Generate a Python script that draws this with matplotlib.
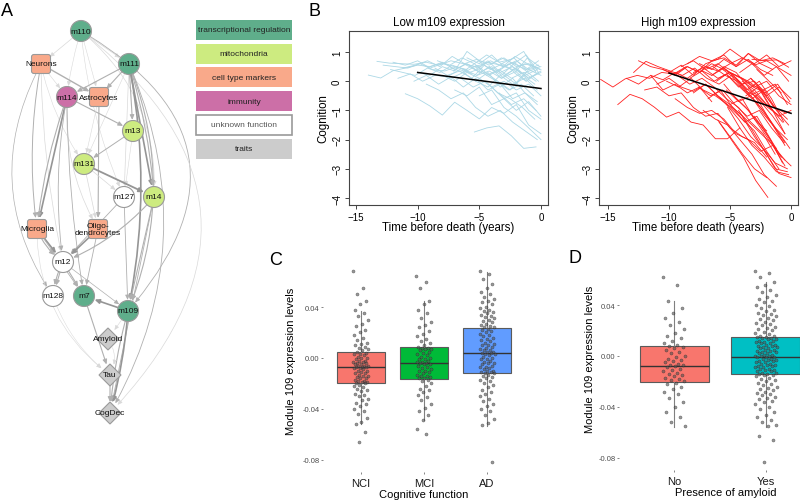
import numpy as np
import matplotlib
matplotlib.use('Agg')
import matplotlib.pyplot as plt
from matplotlib.patches import Circle, FancyBboxPatch, Polygon, Rectangle, FancyArrowPatch

plt.rcParams['font.family'] = ['Liberation Sans', 'DejaVu Sans']

W, H = 800, 502

# ---------------- panel A: network (layout positions from the original drawing) ----------------
node_names = ['m110', 'Neurons', 'm111', 'm114', 'Astrocytes', 'm13', 'm131', 'm127', 'm14',
              'Microglia', 'Oligo', 'm12', 'm128', 'm7', 'm109', 'Amyloid', 'Tau', 'CogDec']
node_labels = ['m110', 'Neurons', 'm111', 'm114', 'Astrocytes', 'm13', 'm131', 'm127', 'm14',
               'Microglia', 'Oligo-\ndendrocytes', 'm12', 'm128', 'm7', 'm109', 'Amyloid', 'Tau', 'CogDec']
node_x = [81, 41, 129, 67, 99, 133, 84, 124, 154, 37, 98, 63, 53, 84, 128, 108, 110, 110]
node_y = [32, 65, 65, 98, 98, 132, 165, 198, 198, 230, 230, 263, 297, 297, 312, 340, 376, 414]
node_group = ['tr', 'cell', 'tr', 'imm', 'cell', 'mito', 'mito', 'unk', 'mito',
              'cell', 'cell', 'unk', 'unk', 'tr', 'tr', 'trait', 'trait', 'trait']

group_colors = {'tr': '#5fae8b', 'mito': '#cdeb80', 'cell': '#f9a98a',
                'imm': '#cc6fa7', 'unk': '#ffffff', 'trait': '#cccccc'}
legend_labels = ['transcriptional regulation', 'mitochondria', 'cell type markers',
                 'immunity', 'unknown function', 'traits']
legend_keys = ['tr', 'mito', 'cell', 'imm', 'unk', 'trait']

# (source, target, curvature, width, shade)
edges = [
    ('m110', 'Neurons', 0.0, 0.5, 'l'), ('m110', 'm111', 0.0, 0.5, 'l'),
    ('m110', 'm114', 0.05, 0.4, 'l'), ('m110', 'Astrocytes', 0.0, 0.4, 'l'),
    ('m110', 'm127', 0.08, 0.4, 'l'), ('m110', 'm14', -0.25, 0.5, 'l'),
    ('m110', 'm109', -0.6, 0.6, 'm'), ('m110', 'CogDec', -0.55, 0.5, 'l'),
    ('Neurons', 'Astrocytes', 0.0, 1.0, 'm'), ('Neurons', 'm114', 0.0, 0.4, 'l'),
    ('Neurons', 'Microglia', 0.08, 0.7, 'm'), ('Neurons', 'm128', 0.3, 0.5, 'm'),
    ('Neurons', 'm131', 0.1, 0.4, 'l'), ('Neurons', 'm12', 0.05, 0.5, 'l'),
    ('m111', 'm114', 0.0, 0.8, 'm'), ('m111', 'Astrocytes', 0.0, 0.8, 'm'),
    ('m111', 'm13', 0.0, 0.8, 'm'), ('m111', 'm131', 0.0, 0.4, 'l'),
    ('m111', 'm127', 0.0, 0.5, 'l'), ('m111', 'm14', 0.0, 1.2, 'd'),
    ('m111', 'm14', -0.06, 0.8, 'm'), ('m111', 'm109', -0.1, 1.2, 'd'),
    ('m111', 'm109', -0.2, 0.8, 'm'), ('m111', 'CogDec', -0.25, 0.6, 'm'),
    ('m114', 'm13', 0.0, 0.8, 'm'), ('m114', 'Microglia', 0.0, 1.2, 'd'),
    ('m114', 'Microglia', 0.06, 0.8, 'm'), ('m114', 'Oligo', 0.15, 0.5, 'l'),
    ('m114', 'm12', 0.08, 0.6, 'm'), ('m114', 'm7', 0.04, 0.6, 'm'),
    ('Astrocytes', 'Oligo', 0.0, 0.8, 'm'), ('Astrocytes', 'm131', 0.0, 0.4, 'l'),
    ('m13', 'm131', 0.0, 0.7, 'm'), ('m13', 'm127', 0.0, 0.4, 'l'),
    ('m131', 'm14', 0.0, 1.3, 'd'), ('m131', 'm127', 0.0, 0.5, 'l'),
    ('m131', 'Oligo', 0.0, 0.5, 'l'),
    ('m127', 'm12', 0.0, 0.6, 'm'), ('m127', 'm109', 0.0, 0.6, 'm'),
    ('m14', 'm12', -0.12, 0.8, 'm'), ('m14', 'm109', 0.0, 0.8, 'm'),
    ('m14', 'CogDec', 0.0, 0.6, 'm'),
    ('Microglia', 'm12', 0.0, 1.2, 'd'), ('Microglia', 'm12', 0.15, 0.8, 'm'),
    ('Microglia', 'm7', 0.0, 0.6, 'm'), ('Microglia', 'Tau', 0.25, 0.4, 'l'),
    ('Oligo', 'm12', 0.0, 1.2, 'd'), ('Oligo', 'm7', 0.0, 0.6, 'm'),
    ('m12', 'm128', 0.0, 0.8, 'm'), ('m12', 'm128', 0.1, 0.8, 'm'),
    ('m12', 'm7', 0.0, 0.8, 'm'), ('m12', 'm109', 0.0, 0.5, 'm'),
    ('m109', 'm7', 0.0, 1.2, 'd'), ('m109', 'Amyloid', 0.0, 0.4, 'l'),
    ('m109', 'CogDec', -0.05, 1.2, 'd'), ('m109', 'CogDec', 0.05, 0.8, 'm'),
    ('m7', 'Tau', 0.0, 0.8, 'm'), ('Amyloid', 'Tau', -0.3, 0.4, 'l'),
    ('Tau', 'CogDec', 0.0, 0.8, 'm'), ('m128', 'Tau', 0.15, 0.35, 'l'),
]
shade_colors = {'l': '#d9d9d9', 'm': '#b0b0b0', 'd': '#959595'}

# ---------------- panel B: cognition trajectories (start year, yearly values) ----------------
low_traj = [
    (-14.0, [0.21, 0.11, 0.36, 0.45, 0.55, 0.5, 0.62]),
    (-13.3, [0.68, 0.62, 0.6, 0.58, 0.65, 0.55, 0.7, 0.6, 0.5, 0.65, 0.55, 0.4, 0.6, 0.45]),
    (-12.8, [0.55, 0.5, 0.45, 0.6, 0.4, 0.35, 0.5, 0.3, 0.45]),
    (-12.2, [0.4, 0.3, 0.2, 0.45, 0.3, 0.55, 0.4, 0.2, 0.35, 0.1, 0.3, 0.0]),
    (-11.6, [0.1, 0.25, 0.0, 0.2, 0.15, 0.4, 0.25]),
    (-11.2, [0.45, 0.55, 0.7, 0.5, 0.85, 0.6, 0.75, 0.55, 0.8, 0.6, 0.4, 0.55]),
    (-11.0, [-0.43, -0.6, -0.85, -1.16, -0.72, -1.0, -1.29, -0.9, -1.1, -0.8, -1.5, -1.8]),
    (-10.0, [0.3, 0.2, 0.5, 0.35, 1.02, 0.7, 0.6, 0.8, 0.5, 0.6, 0.4]),
    (-9.3, [-0.1, -0.3, -0.6, -0.4, -0.9, -1.2, -1.0, -1.4, -1.7, -2.0]),
    (-8.4, [0.7, 0.55, 0.8, 0.6, 0.9, 0.65, 0.75, 1.02, 0.3]),
    (-8.0, [0.2, 0.0, 0.3, 0.1, -0.2, 0.0, -0.3, -0.1, -0.5]),
    (-7.4, [0.5, 0.3, 0.6, 0.2, 0.4, 0.1, 0.3, 0.0]),
    (-7.1, [0.35, 0.6, 0.45, 0.7, 0.5, 0.85, 0.6, 0.4]),
    (-7.0, [-0.3, -0.5, -0.2, -0.8, -0.6, -1.0, -0.7, -1.2]),
    (-6.3, [0.6, 0.4, 0.7, 0.3, 0.5, 0.2, 0.4]),
    (-5.4, [-1.74, -1.6, -1.53, -1.87, -2.3, -2.25]),
    (-6.5, [0.1, -0.2, 0.0, -0.4, -0.6, -0.9, -1.3]),
    (-6.0, [0.8, 0.6, 0.9, 0.5, 0.7, 0.4, 0.2]),
    (-5.2, [0.2, 0.5, 0.1, 0.4, 0.0, 0.3]),
    (-5.0, [-0.5, -0.3, -0.9, -1.2, -1.6, -2.0]),
    (-5.1, [0.7, 0.4, 0.6, 0.3, 0.8, 0.5]),
    (-5.3, [0.0, 0.3, -0.2, 0.1, -0.4, -0.7]),
    (-4.2, [0.5, 0.2, 0.6, 0.9, 0.3]),
    (-4.5, [0.3, 0.0, -0.3, 0.2, -0.1]),
    (-4.0, [-0.2, -0.6, -0.4, -1.0, -1.3]),
    (-3.2, [0.6, 0.8, 0.4, 0.7]),
    (-3.0, [0.2, -0.1, 0.4, 0.5]),
    (-9.0, [0.5, 0.65, 0.4, 0.6, 0.3, 0.5, 0.2, 0.45, 0.1, 0.35]),
    (-10.3, [0.0, 0.2, -0.1, 0.15, -0.2, 0.1, -0.3, -0.1, -0.6, -0.4, -0.8]),
    (-12.0, [0.65, 0.55, 0.7, 0.45, 0.6, 0.5, 0.4]),
    (-8.6, [0.45, 0.2, 0.35, 0.1, 0.55, 0.3, 0.6, 0.25, 0.4]),
    (-6.2, [0.3, 0.55, 0.2, 0.45, 0.65, 0.35, 0.0]),
    (-5.6, [0.45, 0.25, 0.0, -0.3, -0.1, -0.5]),
    (-7.3, [0.1, 0.3, 0.0, -0.2, 0.2, -0.1, 0.1, -0.3]),
    (-3.4, [-0.4, -0.8, -0.6, -1.0]),
    (-2.0, [0.4, 0.1, 0.3]),
]
high_traj = [
    (-15.6, [0.06, -0.2, 0.08, 0.2, 0.1, 0.3, 0.25, 0.5]),
    (-14.2, [-0.8, -0.45, -0.6, -0.89, -1.23, -1.06, -1.4, -1.5, -1.97, -1.97, -1.6]),
    (-12.9, [0.3, 0.68, 0.5, 0.35, 0.2, 0.45, 0.1, -0.1, 0.2, -0.3, -0.5, -0.9, -1.2]),
    (-13.5, [0.1, -0.1, 0.2, -0.3, -0.1, -0.4, -0.2, -0.7]),
    (-12.5, [0.7, 0.5, 0.4, 0.25, 0.5, 0.3, 0.6, 0.4, 0.2, 0.0, -0.3]),
    (-12.0, [-0.3, -0.2, -0.5, -0.4, -0.9, -1.2, -1.1, -1.6, -1.9, -2.1, -2.6]),
    (-11.5, [0.2, 0.05, 0.3, 0.1, 0.4, 0.2, 0.5, 0.3, -0.2, -0.6, -1.0]),
    (-11.0, [-0.1, 0.1, -0.2, -0.35, -0.1, -0.5, -0.8, -0.6, -1.3, -1.7]),
    (-10.5, [0.4, 0.2, 0.5, 0.3, 0.7, 0.8, 0.55, 0.95, 0.6, 0.4]),
    (-10.0, [0.3, 0.55, 0.2, 0.6, 0.75, 1.1, 0.8, 0.6, 0.9, 0.5, 0.7]),
    (-10.2, [0.0, -0.2, 0.1, -0.3, -0.5, -0.8, -1.1, -1.5, -1.9, -2.3]),
    (-9.5, [-0.6, -0.9, -1.1, -1.0, -1.3, -1.8, -2.0, -2.4, -2.2, -2.9]),
    (-9.0, [0.5, 0.7, 0.4, 0.6, 0.3, 0.1, -0.2, 0.0, -0.5, -0.8]),
    (-9.3, [0.2, -0.1, 0.1, -0.2, -0.6, -0.9, -1.4, -1.8, -2.5]),
    (-8.5, [0.6, 0.85, 0.7, 0.9, 0.5, 0.75, 0.4, 0.2]),
    (-8.0, [-0.4, -0.1, -0.5, -0.9, -1.3, -1.7, -2.4, -3.0]),
    (-8.3, [0.1, 0.35, 0.0, 0.25, -0.2, 0.1, -0.4, -0.9, -1.3]),
    (-7.5, [0.6, 0.4, 0.75, 0.5, 0.95, 0.7, 0.8, 0.6]),
    (-7.6, [-0.2, -0.5, -0.3, -0.8, -1.2, -1.0, -1.6, -2.1]),
    (-7.0, [0.4, 0.1, 0.3, -0.1, 0.0, -0.5, -0.2, -0.6]),
    (-7.2, [-1.0, -1.3, -1.5, -2.0, -2.5, -3.2, -3.6]),
    (-6.5, [0.2, 0.45, 0.1, -0.3, -0.7, -1.2, -1.8]),
    (-6.8, [-0.6, -0.3, -0.9, -1.4, -1.2, -1.9, -2.6]),
    (-6.0, [-1.33, -1.9, -2.48, -3.0, -3.3]),
    (-6.1, [0.0, 0.3, 0.1, -0.2, -0.4, -0.1, -0.7]),
    (-6.4, [0.5, 0.2, 0.0, -0.5, -0.3, -0.9, -1.1]),
    (-5.5, [-0.1, -0.6, -1.0, -1.6, -2.2, -2.7]),
    (-5.6, [0.4, 0.1, -0.3, 0.0, -0.6, -1.4]),
    (-5.0, [-0.8, -1.2, -1.9, -2.5, -3.16, -3.3]),
    (-5.2, [0.2, -0.2, -0.6, -0.3, -1.0, -1.5]),
    (-5.3, [-0.3, -0.7, -0.5, -1.1, -1.6, -2.0]),
    (-4.5, [0.1, -0.4, -0.9, -1.5, -2.1]),
    (-4.7, [-0.5, -0.9, -1.4, -2.0, -2.8]),
    (-4.0, [0.0, -0.3, -0.8, -1.2, -1.0]),
    (-4.3, [-1.0, -1.6, -2.3, -3.0, -3.1]),
    (-4.2, [0.3, 0.6, 0.2, 0.5, 0.0]),
    (-3.5, [-0.2, -0.8, -1.5, -2.2]),
    (-3.7, [-0.5, -0.2, -0.9, -1.4]),
    (-3.0, [-1.2, -1.8, -2.5, -2.9]),
    (-3.3, [0.1, -0.3, -0.1, -0.8]),
    (-3.1, [-0.6, -1.1, -1.7, -2.3]),
    (-2.5, [-0.3, -1.0, -1.8]),
    (-2.8, [0.4, 0.0, -0.4]),
    (-5.9, [-1.4, -2.0, -2.6, -3.4, -3.98]),
    (-3.2, [0.75, 0.71, 0.73, 0.48]),
    (-8.0, [0.3, 0.5, 0.35, 0.6, 0.8, 0.55, 0.7, 0.45, 0.2]),
    (-5.2, [-0.9, -1.6, -2.2, -2.6, -3.1, -3.2]),
    (-6.3, [-0.4, -0.8, -1.3, -1.9, -2.3, -2.8, -3.0]),
]
low_fit = ([-10, 0], [0.30, -0.25])
high_fit = ([-10, 0], [0.28, -1.10])

# ---------------- panels C and D: module 109 expression (values x 1000) ----------------
cog_groups = ['NCI', 'MCI', 'AD']
cog_med = [-0.0071, -0.0040, 0.0039]
cog_q1 = [-0.0196, -0.0165, -0.0118]
cog_q3 = [0.0047, 0.0086, 0.0235]
cog_lo = [-0.052, -0.049, -0.0533]
cog_hi = [0.037, 0.045, 0.0675]
nci_pts = [68, 55, 50, 45, 42, 38, 35, 33, 30, 27, 25, 22, 20, 18, 16, 14, 12, 11, 10, 9, 8, 7, 6,
           5, 4, 3, 3, 2, 1, 0, 0, -1, -2, -2, -3, -3, -4, -4, -5, -5, -6, -6, -6, -7, -7,
           -7, -8, -8, -9, -10, -10, -11, -12, -12, -13, -14, -14, -15, -16, -16, -17, -18, -18, -19, -19, -20, -20,
           -21, -22, -23, -24, -25, -26, -28, -29, -30, -32, -33, -35, -36, -38, -40, -42, -44, -47, -50, -52, -58, -66]
mci_pts = [64, 60, 55, 45, 42, 38, 35, 31, 28, 26, 24, 21, 19, 17, 15, 13, 12, 10, 9,
           8, 8, 7, 7, 6, 5, 4, 3, 2, 1, 0, -1, -1, -2, -3, -3, -4, -4,
           -5, -5, -6, -7, -8, -9, -10, -10, -11, -12, -13, -14, -14, -15, -16, -16,
           -17, -18, -20, -22, -24, -25, -27, -29, -31, -33, -36, -39, -42, -45, -49, -56, -60]
ad_pts = [68, 66, 62, 58, 55, 52, 50, 48, 46, 45, 44, 42, 40, 39, 38, 37, 36, 35, 34, 33, 32, 31, 30, 29,
          28, 27, 26, 25, 24, 24,
          23, 22, 21, 20, 19, 18, 17, 16, 15, 14, 13, 12, 11, 10, 10, 9, 8, 7, 6, 6, 5, 5, 4, 4,
          3, 3, 2, 1, 0, -1, -1, -2, -3, -4, -4, -5, -6, -7, -7, -8, -9, -10, -10, -11, -11, -12,
          -12, -13, -14, -15, -16, -17, -18, -20, -21, -23, -25, -27, -28, -30, -32, -34, -36, -38,
          -40, -42, -45, -48, -51, -53, -82]

amy_groups = ['No', 'Yes']
amy_med = [-0.0078, -0.0008]
amy_q1 = [-0.0204, -0.0141]
amy_q3 = [0.0078, 0.0149]
amy_lo = [-0.0557, -0.0557]
amy_hi = [0.043, 0.058]
no_pts = [62, 56, 43, 38, 34, 30, 27, 24, 21, 18, 16, 14, 12, 10, 9, 8,
          7, 6, 5, 3, 2, 0, -1, -2, -3, -4, -5, -6, -7, -7,
          -8, -9, -10, -11, -12, -13, -14, -15, -16, -17, -18, -19, -20,
          -21, -22, -24, -26, -28, -30, -33, -36, -40, -44, -48, -52, -55]
yes_pts = [67, 65, 62, 58, 56, 54, 52, 50, 48, 46, 45, 43, 42, 40, 39, 38, 36, 35, 34, 33, 32, 31, 30,
           29, 28, 27, 26, 25, 24, 23, 22, 21, 20, 19, 18, 17, 16, 16, 15, 15,
           14, 14, 13, 13, 12, 12, 11, 11, 10, 10, 9, 9, 8, 8, 7, 7, 6, 6, 5, 5, 4, 4, 3, 3, 2, 2,
           1, 1, 0, 0, 0, -1, -1, -1, -2, -2, -3, -3, -4, -4,
           -5, -5, -6, -6, -7, -7, -8, -8, -9, -9, -10, -10, -11, -11, -12, -12, -13, -13, -14, -14,
           -15, -15, -16, -17, -18, -19, -20, -21, -22, -23, -24, -25, -26, -27, -28, -29, -30, -31,
           -32, -33, -34, -35, -36, -38, -40, -42, -44, -46, -48, -50, -52, -54, -55, -63, -66, -83]


def fig_rect(x0, y0, x1, y1):
    return [x0 / W, 1 - y1 / H, (x1 - x0) / W, (y1 - y0) / H]


fig = plt.figure(figsize=(8, 5.02), dpi=100)

# overlay in pixel units for the network and panel letters
axA = fig.add_axes([0, 0, 1, 1])
axA.set_xlim(0, W)
axA.set_ylim(H, 0)
axA.axis('off')

pos = dict(zip(node_names, zip(node_x, node_y)))
for src, dst, rad, lw, shade in edges:
    arr = FancyArrowPatch(pos[src], pos[dst], connectionstyle=f'arc3,rad={rad}',
                          arrowstyle='-|>,head_length=0.4,head_width=0.18', mutation_scale=7,
                          lw=lw, color=shade_colors[shade], shrinkA=7, shrinkB=8, zorder=1)
    axA.add_patch(arr)

for name, lab, x, y, g in zip(node_names, node_labels, node_x, node_y, node_group):
    fc = group_colors[g]
    if g == 'cell':
        p = FancyBboxPatch((x - 9.5, y - 9.5), 19, 19, boxstyle='round,pad=0,rounding_size=2.5',
                           fc=fc, ec='#9a9a9a', lw=0.8, zorder=2)
    elif g == 'trait':
        p = Polygon([(x, y - 11), (x + 11, y), (x, y + 11), (x - 11, y)], closed=True,
                    fc=fc, ec='#9a9a9a', lw=0.8, zorder=2)
    else:
        p = Circle((x, y), 10.5, fc=fc, ec='#9a9a9a', lw=0.8, zorder=2)
    axA.add_patch(p)
    axA.text(x, y, lab, fontsize=6, ha='center', va='center', linespacing=1.0,
             color='#111111', zorder=3)

for i, (lab, g) in enumerate(zip(legend_labels, legend_keys)):
    y0 = 21 + i * 23.7
    axA.add_patch(Rectangle((196, y0), 96, 20, fc=group_colors[g],
                            ec='#999999' if g == 'unk' else 'none', lw=1.2))
    axA.text(244, y0 + 10, lab, fontsize=6, ha='center', va='center',
             color='#555555' if g == 'unk' else '#222222')

for letter, lx, ly in [('A', 1, 11), ('B', 308, 11), ('C', 269, 261), ('D', 568, 259)]:
    axA.text(lx, ly, letter, fontsize=13, ha='left', va='center')


def spaghetti(rect, trajs, color, fit, xlim, title):
    ax = fig.add_axes(fig_rect(*rect))
    for start, vals in trajs:
        t = start + np.arange(len(vals))
        ax.plot(t, vals, color=color, lw=0.6)
    ax.plot(fit[0], fit[1], color='black', lw=1.1)
    ax.set_xlim(*xlim)
    ax.set_ylim(-4.24, 1.72)
    ax.set_xticks([-15, -10, -5, 0])
    ax.set_yticks(range(-4, 2))
    ax.set_yticklabels([f'{v}'.replace('-', '\u2212') for v in range(-4, 2)],
                       rotation=90, va='center')
    ax.tick_params(axis='both', labelsize=7, length=3, width=0.7, color='#444444', pad=2)
    for s in ax.spines.values():
        s.set_color('#444444')
        s.set_linewidth(0.8)
    ax.set_title(title, fontsize=8.3, pad=4)
    ax.set_ylabel('Cognition', fontsize=8.3)
    ax.yaxis.set_label_coords(-0.10, 0.5)
    ax.set_xlabel('Time before death (years)', fontsize=8.3, va='top')
    ax.xaxis.set_label_coords(0.5, -0.09)
    return ax


spaghetti((349, 32, 548, 206), low_traj, '#acd8e6', low_fit, (-15.57, 0.57), 'Low m109 expression')
spaghetti((599, 32, 798, 206), high_traj, '#ff2020', high_fit, (-15.74, 0.57), 'High m109 expression')


def box_panel(rect, groups, med, q1, q3, lo, hi, points, colors, xlabel, ylab_x, xlab_x):
    ax = fig.add_axes(fig_rect(*rect))
    positions = np.arange(1, len(groups) + 1)
    stats = [dict(med=m, q1=a, q3=b, whislo=l, whishi=h, fliers=[])
             for m, a, b, l, h in zip(med, q1, q3, lo, hi)]
    bp = ax.bxp(stats, positions=positions, widths=0.75, patch_artist=True,
                showfliers=False, showcaps=False,
                boxprops=dict(edgecolor='#5a5a5a', linewidth=0.8),
                medianprops=dict(color='#333333', linewidth=1.0),
                whiskerprops=dict(color='#808080', linewidth=0.8))
    for patch, c in zip(bp['boxes'], colors):
        patch.set_facecolor(c)
    for p0, vals in zip(positions, points):
        v = np.array(vals) / 1000.0
        k = np.arange(len(v))
        jit = ((k * 0.618034) % 1 - 0.5) * 0.24
        ax.scatter(p0 + jit, v, s=5, c='#555555', edgecolors='#1a1a1a', linewidths=0.3,
                   alpha=0.6, zorder=3)
    ax.set_xlim(0.4, len(groups) + 0.6)
    ax.set_ylim(-0.0895, 0.0765)
    ax.set_yticks([0.04, 0.0, -0.04, -0.08])
    ax.set_yticklabels(['0.04', '0.00', '-0.04', '-0.08'])
    ax.set_xticks(positions)
    ax.set_xticklabels(groups)
    for s in ax.spines.values():
        s.set_visible(False)
    ax.tick_params(axis='y', labelsize=5.5, labelcolor='#4d4d4d', length=1.5, width=0.5,
                   color='#555555', pad=1)
    ax.tick_params(axis='x', labelsize=8, labelcolor='#1a1a1a', length=1.5, width=0.5,
                   color='#555555', pad=2.5)
    ax.set_facecolor('none')
    ax.set_ylabel('Module 109 expression levels', fontsize=8)
    ax.yaxis.set_label_coords(ylab_x, 0.53)
    ax.set_xlabel(xlabel, fontsize=8, va='top')
    ax.xaxis.set_label_coords(xlab_x, -0.08)
    return ax


box_panel((323, 261.5, 525, 473), cog_groups, cog_med, cog_q1, cog_q3, cog_lo, cog_hi,
          [nci_pts, mci_pts, ad_pts], ['#F8766D', '#00BA38', '#619CFF'],
          'Cognitive function', -0.134, 0.5)
box_panel((619, 259.5, 821, 471), amy_groups, amy_med, amy_q1, amy_q3, amy_lo, amy_hi,
          [no_pts, yes_pts], ['#F8766D', '#00BFC4'],
          'Presence of amyloid', -0.119, 0.53)

fig.savefig('out.png', dpi=100)
